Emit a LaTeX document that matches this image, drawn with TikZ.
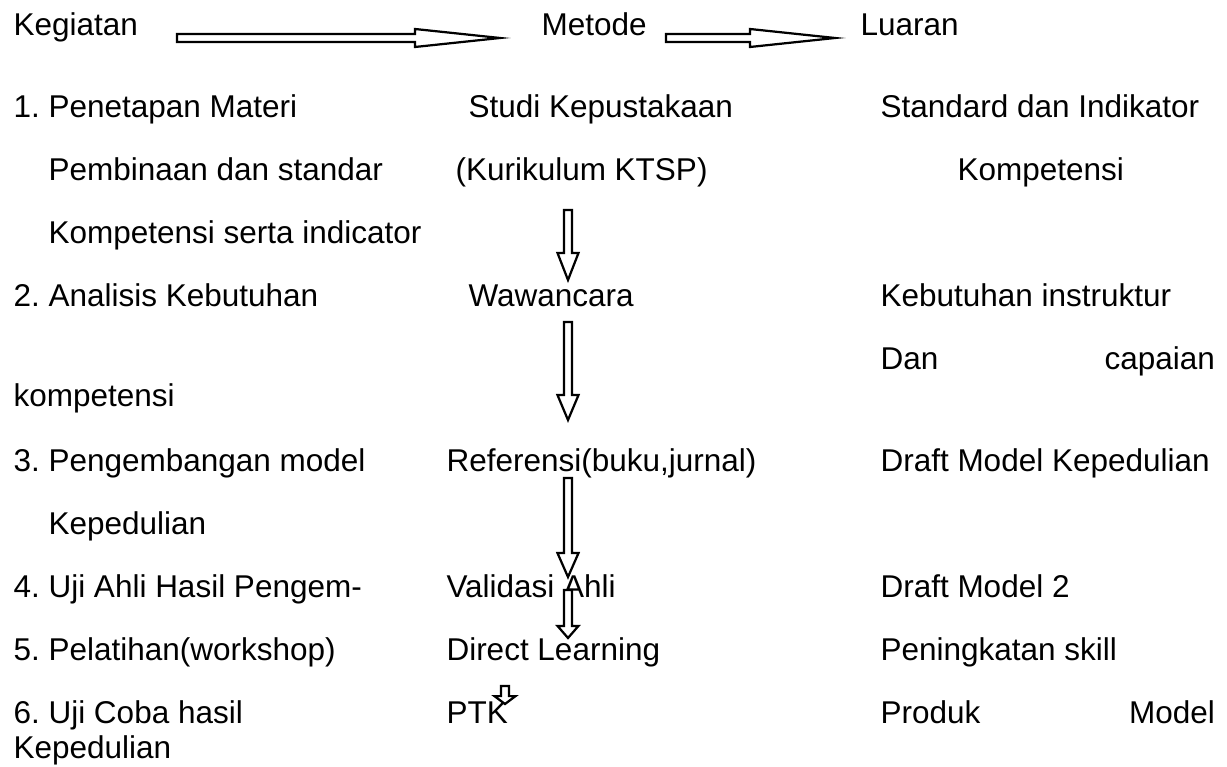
\documentclass[tikz,border=0pt]{standalone}
\usepackage{fontspec}
\setmainfont{Liberation Sans}
\usetikzlibrary{calc}
\frenchspacing

\tikzset{
    lbl/.style={anchor=base west, inner sep=0pt, font=\fontsize{12pt}{14pt}\selectfont},
    blockline/.style={draw, fill=white, line width=0.85pt, line join=miter},
}

% block arrow: tail, tip, shaft half width, head length, head half width
\newcommand{\blockarrow}[5]{%
    \coordinate (neck) at ($(#2)!#4!(#1)$);
    \draw[blockline] ($(#1)!#3!90:(#2)$) -- ($(neck)!#3!90:(#2)$)
        -- ($(neck)!#5!90:(#2)$) -- (#2)
        -- ($(neck)!#5!-90:(#2)$) -- ($(neck)!#3!-90:(#2)$)
        -- ($(#1)!#3!-90:(#2)$) -- cycle;
}

\begin{document}
\begin{tikzpicture}[x=0.381pt, y=-0.381pt]
    \useasboundingbox (0,0) rectangle (1227,767);

    % headings
    \node[lbl] (keg) at (13,36)  {Kegiatan};
    \node[lbl] (met) at (541,36) {Metode};
    \node[lbl] (lua) at (860,36) {Luaran};

    % kegiatan
    \node[lbl] (p1a) at (13,118) {1. Penetapan Materi};
    \node[lbl] (p1b) at (48,181) {Pembinaan dan standar};
    \node[lbl] (p1c) at (48,244) {Kompetensi serta indicator};
    \node[lbl] (p2)  at (13,307) {2. Analisis Kebutuhan};
    \node[lbl] (p2b) at (13,407) {kompetensi};
    \node[lbl] (p3a) at (13,472) {3. Pengembangan model};
    \node[lbl] (p3b) at (48,535) {Kepedulian};
    \node[lbl] (p4)  at (13,598) {4. Uji Ahli Hasil Pengem-};
    \node[lbl] (p5)  at (13,661) {5. Pelatihan(workshop)};
    \node[lbl] (p6a) at (13,724) {6. Uji Coba hasil};
    \node[lbl] (p6b) at (13,759) {Kepedulian};

    % metode
    \node[lbl] (studi) at (468,118) {Studi Kepustakaan};
    \node[lbl] (kurik) at (455,181) {(Kurikulum KTSP)};
    \node[lbl] (waw)   at (468,307) {Wawancara};
    \node[lbl] (ref)   at (446,472) {Referensi(buku,jurnal)};
    \node[lbl] (val)   at (446,598) {Validasi Ahli};
    \node[lbl] (dir)   at (446,661) {Direct Learning};
    \node[lbl] (ptk)   at (446,724) {PTK};

    % luaran
    \node[lbl] (std)    at (880,118) {Standard dan Indikator};
    \node[lbl] (kompa)  at (957,181) {Kompetensi};
    \node[lbl] (kebut)  at (880,307) {Kebutuhan instruktur};
    \node[lbl] (capai)  at (880,370) {\hbox to 127.4pt{Dan\hfill capaian}};
    \node[lbl] (draft1) at (880,472) {Draft Model Kepedulian};
    \node[lbl] (draft2) at (880,598) {Draft Model 2};
    \node[lbl] (skill)  at (880,661) {Peningkatan skill};
    \node[lbl] (produk) at (880,724) {\hbox to 127.4pt{Produk\hfill Model}};

    % arrow ends
    \coordinate (h1t) at (177,38);  \coordinate (h1h) at (500,38);
    \coordinate (h2t) at (666,38);  \coordinate (h2h) at (835,38);
    \coordinate (vat) at (568,210); \coordinate (vah) at (568,280);
    \coordinate (vbt) at (568,322); \coordinate (vbh) at (568,420);
    \coordinate (vct) at (568,478); \coordinate (vch) at (568,577);
    \coordinate (vdt) at (568,590); \coordinate (vdh) at (568,638);
    \coordinate (vet) at (505,686); \coordinate (veh) at (505,704);

    \blockarrow{h1t}{h1h}{1.52pt}{32.4pt}{3.43pt}
    \blockarrow{h2t}{h2h}{1.52pt}{32.4pt}{3.43pt}
    \blockarrow{vat}{vah}{1.52pt}{10.3pt}{4pt}
    \blockarrow{vbt}{vbh}{1.52pt}{9.5pt}{4pt}
    \blockarrow{vct}{vch}{1.52pt}{9.1pt}{4pt}
    \blockarrow{vdt}{vdh}{1.52pt}{4.6pt}{4pt}
    \blockarrow{vet}{veh}{1.52pt}{3pt}{4pt}
\end{tikzpicture}
\end{document}
